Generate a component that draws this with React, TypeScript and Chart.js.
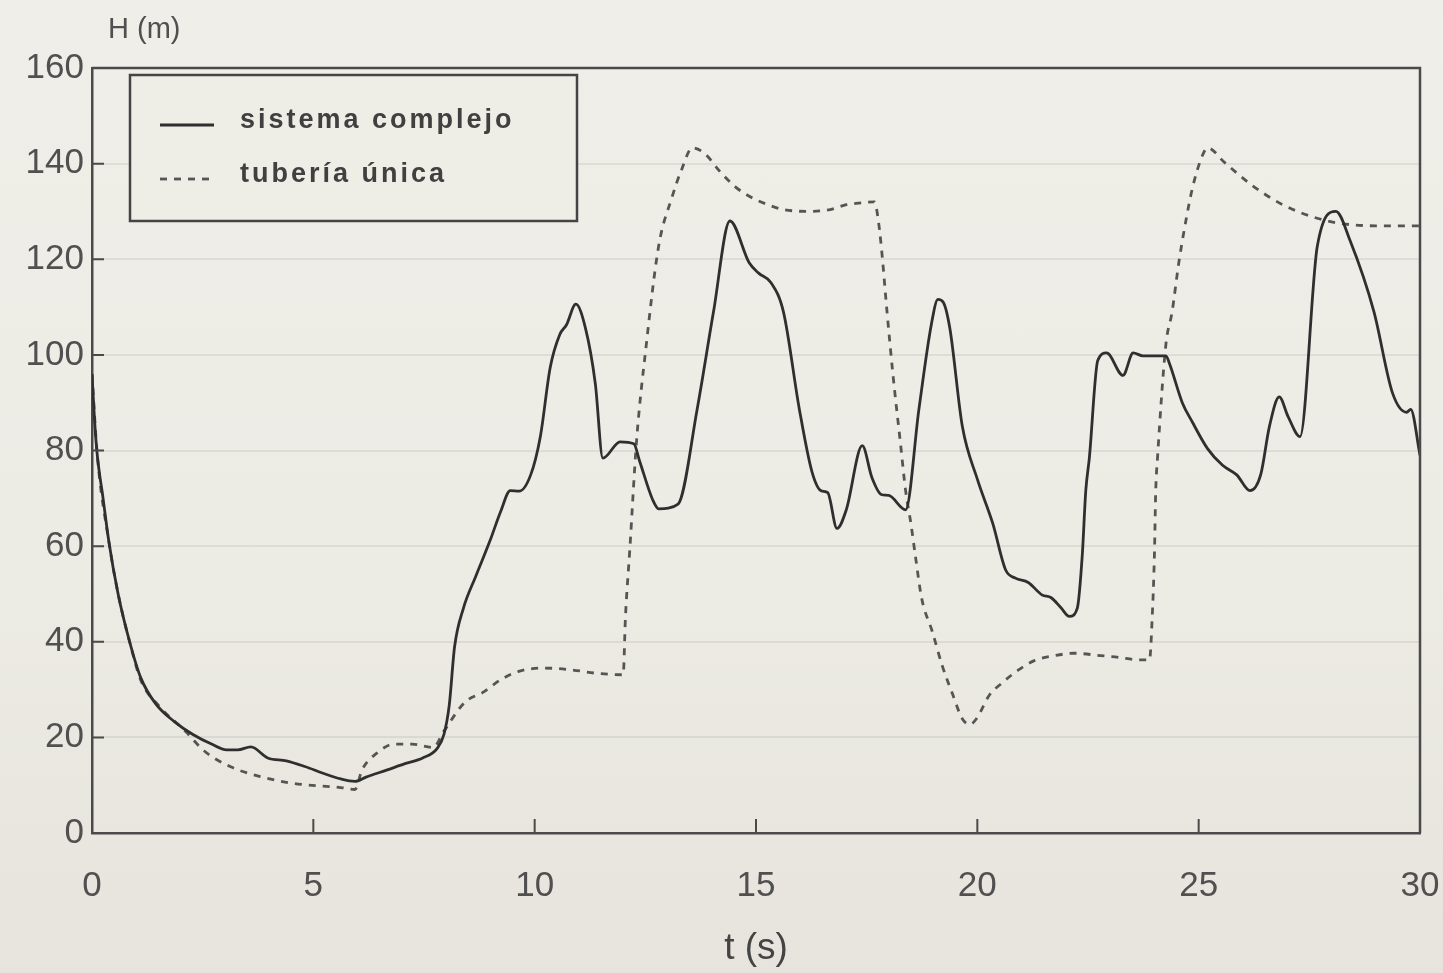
import React, { useEffect, useRef } from "react";
import { Chart, registerables } from "chart.js";

Chart.register(...registerables);

// ---- data ----
const seriesLabels = ["sistema complejo", "tubería única"];
const yTitle = "H (m)";
const xTitle = "t (s)";
const xTicks = [0, 5, 10, 15, 20, 25, 30];
const yTicks = [0, 20, 40, 60, 80, 100, 120, 140, 160];

const tSistema = [0, 0.06, 0.12, 0.25, 0.38, 0.59, 0.85, 1.1, 1.44, 1.86, 2.28, 2.7, 3.04, 3.29, 3.59, 3.97, 4.39, 4.81, 5.22, 5.62, 5.94, 6.19, 6.67, 7.07, 7.47, 7.79, 7.95, 8.07, 8.19, 8.39, 8.67, 8.99, 9.23, 9.45, 9.65, 9.91, 10.13, 10.35, 10.57, 10.72, 10.93, 11.15, 11.37, 11.54, 11.93, 12.24, 12.37, 12.67, 12.8, 13.24, 13.67, 14.04, 14.41, 14.85, 15.06, 15.34, 15.62, 15.98, 16.26, 16.47, 16.62, 16.83, 17.04, 17.4, 17.62, 17.83, 18.0, 18.38, 18.68, 18.96, 19.11, 19.23, 19.38, 19.66, 20.0, 20.35, 20.64, 20.86, 21.15, 21.46, 21.67, 21.89, 22.08, 22.26, 22.37, 22.45, 22.53, 22.72, 22.92, 23.29, 23.52, 23.74, 24.26, 24.34, 24.63, 24.86, 25.2, 25.54, 25.86, 26.16, 26.4, 26.6, 26.82, 27.02, 27.29, 27.68, 28.1, 28.42, 28.96, 29.38, 29.7, 29.79, 30.0];
const hSistema = [96, 86, 79, 70, 61, 50, 40, 32.5, 27, 23.3, 20.6, 18.6, 17.4, 17.4, 18, 15.7, 15.1, 13.9, 12.5, 11.3, 10.8, 11.7, 13.2, 14.5, 15.7, 17.6, 20.6, 26.7, 38.9, 47, 53.7, 61.1, 67.2, 71.6, 71.5, 74.9, 83, 97.3, 104.3, 106.3, 110.6, 105.5, 94, 78.4, 81.8, 81.4, 77.8, 69.6, 67.8, 68.8, 88.6, 109, 128, 119.2, 117.1, 115.1, 109, 88.6, 75.7, 71.6, 71.2, 63.7, 67.6, 81, 74.3, 70.8, 70.6, 67.6, 88.6, 106.3, 111.6, 111, 105.5, 85.1, 74, 64.7, 55, 53.3, 52.4, 49.8, 49.2, 47.1, 45.3, 47.1, 58, 71.6, 78.4, 98.8, 100.4, 95.7, 100.4, 99.8, 99.8, 98.2, 90, 85.9, 80.4, 76.9, 74.9, 71.6, 74.9, 85.1, 91.2, 87.1, 82.9, 122.7, 130, 123.9, 109, 92, 88, 88.6, 79];

const tTuberia = [0, 0.12, 0.38, 0.59, 0.85, 1.1, 1.52, 2.11, 2.53, 3.12, 3.8, 4.39, 4.81, 5.62, 5.94, 6.1, 6.42, 6.83, 7.23, 7.71, 7.95, 8.43, 8.83, 9.24, 9.64, 10.2, 10.85, 11.4, 12.0, 12.05, 12.15, 12.3, 12.52, 12.8, 13.1, 13.33, 13.56, 13.83, 14.2, 14.54, 14.9, 15.27, 15.62, 16.2, 16.68, 17.04, 17.4, 17.68, 17.75, 17.83, 17.96, 18.1, 18.26, 18.38, 18.5, 18.6, 18.74, 18.98, 19.21, 19.45, 19.66, 19.83, 19.98, 20.27, 20.56, 20.93, 21.3, 21.75, 22.18, 22.78, 23.23, 23.52, 23.89, 23.95, 24.0, 24.03, 24.07, 24.26, 24.4, 24.55, 24.71, 24.86, 25.08, 25.2, 25.59, 26.2, 26.9, 27.6, 28.2, 29.0, 30];
const hTuberia = [96, 79, 61, 50, 40, 32, 26.5, 21.3, 17.2, 13.9, 11.8, 10.6, 10.1, 9.5, 9.1, 13.2, 16.6, 18.6, 18.6, 17.9, 21.3, 27.4, 29.4, 32.1, 33.8, 34.5, 34.1, 33.4, 33.1, 45, 59.4, 81.8, 102, 122.7, 132.9, 139, 143.3, 142.2, 138.2, 135.1, 132.9, 131.4, 130.4, 130, 130.4, 131.4, 131.8, 132, 129, 122.7, 109, 95.3, 81.8, 71.6, 64.7, 58, 49.2, 42.2, 34.9, 28.8, 23.9, 22.7, 23.9, 28.8, 31.4, 34.1, 36.1, 37.1, 37.6, 37.1, 36.7, 36.3, 36.2, 45, 58, 71.6, 78.4, 102.2, 109, 119.2, 128, 134.9, 141.6, 143.3, 140.2, 135.5, 131.4, 128.8, 127.5, 127, 127];

// ---- styles ----
const TEXT = "#505050";
const PAPER = "#eeede6";
const FONT = '"Liberation Sans", "DejaVu Sans", sans-serif';

const decorPlugin = {
  id: "decor",
  afterDraw(chart: any) {
    const { ctx, chartArea, scales } = chart;
    const { left, right, top, bottom } = chartArea;
    const x = scales.x;
    const y = scales.y;
    ctx.save();
    // frame (top + right)
    ctx.strokeStyle = "#4a4a4a";
    ctx.lineWidth = 2.5;
    ctx.beginPath();
    ctx.moveTo(left, top);
    ctx.lineTo(right, top);
    ctx.lineTo(right, bottom);
    ctx.stroke();
    // inner tick marks
    ctx.lineWidth = 2;
    ctx.beginPath();
    xTicks.forEach((v) => {
      if (v === xTicks[0] || v === xTicks[xTicks.length - 1]) return;
      const px = x.getPixelForValue(v);
      ctx.moveTo(px, bottom);
      ctx.lineTo(px, bottom - 14);
    });
    yTicks.forEach((v) => {
      if (v === yTicks[0]) return;
      const py = y.getPixelForValue(v);
      ctx.moveTo(left, py);
      ctx.lineTo(left + 12, py);
    });
    ctx.stroke();

    // y title
    ctx.fillStyle = TEXT;
    ctx.font = `29px ${FONT}`;
    ctx.textBaseline = "middle";
    ctx.textAlign = "left";
    ctx.fillText(yTitle, left + 16, top - 38);

    // legend box
    const bx = left + 38;
    const by = top + 7;
    const bw = 447;
    const bh = 146;
    ctx.fillStyle = PAPER;
    ctx.fillRect(bx, by, bw, bh);
    ctx.strokeStyle = "#444";
    ctx.lineWidth = 2.5;
    ctx.strokeRect(bx, by, bw, bh);

    const ds = chart.data.datasets;
    const rows = [by + 50, by + 104];
    rows.forEach((ry, i) => {
      const d = ds[i];
      ctx.strokeStyle = d.borderColor;
      ctx.lineWidth = d.borderWidth;
      ctx.setLineDash(d.borderDash || []);
      ctx.beginPath();
      ctx.moveTo(bx + 30, ry);
      ctx.lineTo(bx + 84, ry);
      ctx.stroke();
      ctx.setLineDash([]);
      ctx.fillStyle = "#404040";
      ctx.font = `bold 27px ${FONT}`;
      (ctx as any).letterSpacing = "3px";
      ctx.textBaseline = "middle";
      ctx.fillText(d.label, bx + 110, ry - 4);
      (ctx as any).letterSpacing = "0px";
    });
    ctx.restore();
  },
};

export default function App() {
  const canvasRef = useRef<HTMLCanvasElement | null>(null);

  useEffect(() => {
    if (!canvasRef.current) return;
    const chart = new Chart(canvasRef.current, {
      type: "line",
      data: {
        datasets: [
          {
            label: seriesLabels[0],
            data: tSistema.map((t, i) => ({ x: t, y: hSistema[i] })),
            borderColor: "#2f2f2f",
            borderWidth: 2.8,
            pointRadius: 0,
            cubicInterpolationMode: "monotone",
            fill: false,
          },
          {
            label: seriesLabels[1],
            data: tTuberia.map((t, i) => ({ x: t, y: hTuberia[i] })),
            borderColor: "#555555",
            borderWidth: 2.8,
            borderDash: [7, 7],
            pointRadius: 0,
            cubicInterpolationMode: "monotone",
            fill: false,
          },
        ],
      },
      options: {
        animation: false,
        responsive: true,
        maintainAspectRatio: false,
        layout: { padding: { top: 68, right: 23, left: 0, bottom: 0 } },
        plugins: {
          legend: { display: false },
          tooltip: { enabled: false },
          title: { display: false },
        },
        scales: {
          x: {
            type: "linear",
            min: xTicks[0],
            max: xTicks[xTicks.length - 1],
            afterBuildTicks: (s: any) => {
              s.ticks = xTicks.map((v) => ({ value: v }));
            },
            afterFit: (s: any) => {
              s.height = 140;
              s.paddingLeft = 0;
              s.paddingRight = 0;
            },
            ticks: {
              color: TEXT,
              font: { family: FONT, size: 35 },
              padding: 32,
              maxRotation: 0,
              autoSkip: false,
            },
            grid: { display: false, drawTicks: false },
            border: { display: true, color: "#4a4a4a", width: 2.5 },
            title: {
              display: true,
              text: xTitle,
              color: "#444",
              font: { family: FONT, size: 37 },
              padding: { top: 0, bottom: 2 },
            },
          },
          y: {
            type: "linear",
            min: yTicks[0],
            max: yTicks[yTicks.length - 1],
            afterBuildTicks: (s: any) => {
              s.ticks = yTicks.map((v) => ({ value: v }));
            },
            afterFit: (s: any) => {
              s.width = 92;
              s.paddingTop = 0;
              s.paddingBottom = 0;
            },
            ticks: {
              color: TEXT,
              font: { family: FONT, size: 35 },
              padding: 8,
              autoSkip: false,
            },
            grid: { color: "rgba(0,0,0,0.065)", lineWidth: 2, drawTicks: false },
            border: { display: true, color: "#4a4a4a", width: 2.5 },
          },
        },
      },
      plugins: [decorPlugin],
    } as any);
    return () => chart.destroy();
  }, []);

  return (
    <div
      style={{
        position: "fixed",
        left: 0,
        top: 0,
        width: 1443,
        height: 973,
        background: "linear-gradient(180deg, #efeee8 0%, #ecebe4 60%, #e6e4dc 100%)",
      }}
    >
      <canvas ref={canvasRef} />
    </div>
  );
}
